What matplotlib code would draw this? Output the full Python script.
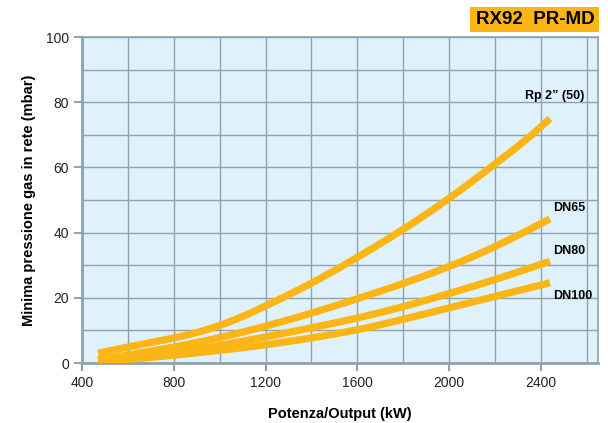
import matplotlib
matplotlib.use("Agg")
import matplotlib.pyplot as plt
from matplotlib.patches import Rectangle
import numpy as np

plt.rcParams['font.family'] = ['Liberation Sans', 'DejaVu Sans']

x_rp2 = [470, 600, 800, 1000, 1200, 1400, 1600, 1800, 2000, 2200, 2400, 2440]
y_rp2 = [3.0, 4.9, 7.7, 11.5, 17.5, 24.5, 32.4, 41.0, 50.5, 61.0, 72.4, 75.0]
x_dn = [470, 800, 1000, 1200, 1400, 1600, 1800, 2000, 2200, 2440]
y_dn65 = [1.0, 4.9, 7.8, 11.3, 15.3, 19.7, 24.4, 29.6, 35.7, 44.2]
y_dn80 = [0.5, 3.2, 5.4, 8.0, 10.8, 13.8, 17.3, 21.3, 25.6, 31.2]
y_dn100 = [0.3, 2.4, 3.9, 5.6, 7.7, 10.2, 13.4, 16.9, 20.4, 24.6]
labels = ['Rp 2\u201d (50)', 'DN65', 'DN80', 'DN100']
title = 'RX92  PR-MD'
xticks = [400, 800, 1200, 1600, 2000, 2400]
yticks = [0, 20, 40, 60, 80, 100]


def natural_spline(xs, ys, n=400):
    x = np.asarray(xs, float)
    y = np.asarray(ys, float)
    m = len(x)
    h = np.diff(x)
    A = np.zeros((m, m))
    b = np.zeros(m)
    A[0, 0] = A[-1, -1] = 1
    for i in range(1, m - 1):
        A[i, i - 1] = h[i - 1]
        A[i, i] = 2 * (h[i - 1] + h[i])
        A[i, i + 1] = h[i]
        b[i] = 6 * ((y[i + 1] - y[i]) / h[i] - (y[i] - y[i - 1]) / h[i - 1])
    M = np.linalg.solve(A, b)
    xx = np.linspace(x[0], x[-1], n)
    idx = np.clip(np.searchsorted(x, xx) - 1, 0, m - 2)
    x0, x1 = x[idx], x[idx + 1]
    hh = x1 - x0
    a = (x1 - xx) / hh
    bb = (xx - x0) / hh
    yy = a * y[idx] + bb * y[idx + 1] + ((a ** 3 - a) * M[idx] + (bb ** 3 - bb) * M[idx + 1]) * hh ** 2 / 6
    return xx, yy


fig = plt.figure(figsize=(6.08, 4.23), dpi=100)
ax = fig.add_axes([0.135, 0.1418, 0.8486, 0.7707])
ax.set_facecolor('#DFF1FB')
orange = '#FBB616'
gridc = '#8FA3AD'

for xs, ys in [(x_rp2, y_rp2), (x_dn, y_dn65), (x_dn, y_dn80), (x_dn, y_dn100)]:
    cx, cy = natural_spline(xs, ys)
    ax.plot(cx, cy, color=orange, lw=5.2, solid_capstyle='butt', zorder=3)

ax.set_xlim(400, 2650)
ax.set_ylim(0, 100)
ax.set_xticks(xticks)
ax.set_yticks(yticks)
ax.set_xticks(np.arange(400, 2650, 200), minor=True)
ax.set_yticks(np.arange(0, 101, 10), minor=True)
ax.grid(True, which='both', color=gridc, lw=1.0, zorder=1)
ax.set_axisbelow(True)
for s in ax.spines.values():
    s.set_color(gridc)
    s.set_linewidth(1.2)
ax.spines['left'].set_linewidth(2)
ax.spines['bottom'].set_linewidth(2)
ax.tick_params(which='major', length=6, width=1.5, color=gridc, labelsize=10, labelcolor='#222222')
ax.tick_params(which='minor', length=0)

ax.set_xlabel('Potenza/Output (kW)', fontsize=10.5, fontweight='bold', labelpad=12)
ax.set_ylabel('Minima pressione gas in rete (mbar)', fontsize=10.5, fontweight='bold', labelpad=7)

ax.text(2460, 82, labels[0], fontsize=9, fontweight='bold', ha='center', va='center')
ax.text(2452, 47.5, labels[1], fontsize=9, fontweight='bold', ha='left', va='center')
ax.text(2452, 34.5, labels[2], fontsize=9, fontweight='bold', ha='left', va='center')
ax.text(2452, 20.5, labels[3], fontsize=9, fontweight='bold', ha='left', va='center')

fig.patches.append(Rectangle((470 / 608, 1 - 32 / 423), 129 / 608, 25 / 423,
                             transform=fig.transFigure, fc=orange, ec='none'))
fig.text(535.5 / 608, 1 - 19.5 / 423, title, fontsize=13.5, fontweight='bold',
         ha='center', va='center')

fig.savefig('out.png', dpi=100)
